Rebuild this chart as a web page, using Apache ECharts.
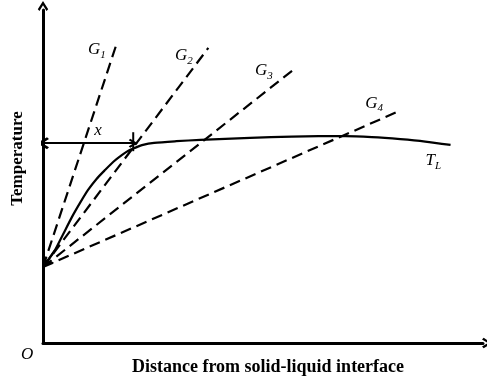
<!DOCTYPE html>
<html><head><meta charset="utf-8">
<script src="https://cdn.jsdelivr.net/npm/echarts@6/dist/echarts.min.js"></script>
<style>html,body{margin:0;padding:0;background:#fff}#c{width:487px;height:378px}</style>
</head><body><div id="c"></div>
<script>
// Data (abstract units)
const origin = [0, 22.8];
const gradientNames = ['1', '2', '3', '4'];
const gradientEnds = [[16.7, 90.4], [37.2, 88.6], [56.3, 82.0], [79.7, 69.4]];
const gradientLabelPos = [[12.1, 88.0], [31.7, 86.2], [49.7, 81.7], [74.5, 72.0]];
const liquidusCurve = [[0, 22.8], [1.2, 25.0], [2.7, 27.9], [4.5, 32.6], [6.5, 37.8], [8.3, 42.0], [10.1, 45.9], [12.0, 49.2], [14.0, 52.0], [15.9, 54.5], [17.8, 56.5], [19.3, 57.8], [20.7, 58.6], [22.5, 59.5], [25.0, 60.1], [30.0, 60.6], [35.4, 61.0], [41.0, 61.3], [46.6, 61.6], [56.0, 62.0], [62.0, 62.1], [68.0, 62.1], [74.0, 61.8], [80.4, 61.2], [86.0, 60.5], [91.7, 59.5]];
const liquidusLabelPos = [87.8, 54.7];
const distanceX = [[0, 60.0], [20.3, 60.0]];
const distanceTick = [[20.3, 63.3], [20.3, 57.6]];
const distanceLabelPos = [12.4, 63.9];

const chevron = 'path://M5,0 L10,8 L8.4,9.6 L5,4.2 L1.6,9.6 L0,8 Z';
const serif = '"Liberation Serif", "Times New Roman", serif';

const series = [];
gradientEnds.forEach((e) => {
  series.push({
    type: 'line', data: [origin, e], symbol: 'none', silent: true,
    lineStyle: { color: '#000', width: 2.2, type: [11, 6] }
  });
});
series.push({
  type: 'line', data: liquidusCurve, smooth: 0.25, symbol: 'none', silent: true,
  lineStyle: { color: '#000', width: 2.2 }
});
// arrowhead at the convergence point
series.push({
  type: 'lines', coordinateSystem: 'cartesian2d', silent: true,
  symbol: ['arrow', 'none'], symbolSize: 10,
  lineStyle: { color: '#000', width: 2, opacity: 1 },
  data: [{ coords: [origin, liquidusCurve[2]] }]
});
// x distance double arrow
series.push({
  type: 'lines', coordinateSystem: 'cartesian2d', silent: true,
  symbol: [chevron, chevron], symbolSize: [12, 9],
  lineStyle: { color: '#000', width: 2.2, opacity: 1 },
  data: [{ coords: distanceX }]
});
series.push({
  type: 'line', data: distanceTick, symbol: 'none', silent: true,
  lineStyle: { color: '#000', width: 2 }
});
// labels
const labelData = gradientLabelPos.map((p, i) => ({ value: p, name: '{g|G}{s|' + gradientNames[i] + '}' }));
labelData.push({ value: liquidusLabelPos, name: '{g|T}{s|L}' });
labelData.push({ value: distanceLabelPos, name: '{g|x}' });
series.push({
  type: 'scatter', data: labelData, symbolSize: 0, silent: true,
  itemStyle: { color: '#000', opacity: 1 },
  label: {
    show: true, position: 'inside', formatter: (p) => p.name,
    color: '#000', textBorderWidth: 0, opacity: 1,
    rich: {
      g: { fontFamily: serif, fontStyle: 'italic', fontSize: 17, color: '#000', textBorderWidth: 0 },
      s: { fontFamily: serif, fontStyle: 'italic', fontSize: 11, color: '#000', textBorderWidth: 0, padding: [10, 0, 0, 0] }
    }
  }
});

const chart = echarts.init(document.getElementById('c'), null, { renderer: 'canvas' });
chart.setOption({
  animation: false,
  backgroundColor: '#fff',
  grid: { left: 43, right: 4, top: 10, bottom: 35, containLabel: false, outerBoundsMode: 'none' },
  xAxis: {
    type: 'value', min: 0, max: 99,
    name: 'Distance from solid-liquid interface', nameLocation: 'middle', nameGap: 15,
    nameTextStyle: { fontFamily: serif, fontWeight: 'bold', fontSize: 18, color: '#000', padding: [0, 0, 0, 10] },
    axisLine: { show: true, symbol: ['none', chevron], symbolSize: [13, 10], symbolOffset: [0, 4], lineStyle: { color: '#000', width: 3 } },
    axisTick: { show: false }, axisLabel: { show: false }, splitLine: { show: false }
  },
  yAxis: {
    type: 'value', min: 0, max: 100,
    name: 'Temperature', nameLocation: 'middle', nameGap: 17, nameRotate: 90,
    nameTextStyle: { fontFamily: serif, fontWeight: 'bold', fontSize: 17, color: '#000', padding: [0, 0, 0, 36] },
    axisLine: { show: true, symbol: ['none', chevron], symbolSize: [13, 10], symbolOffset: [0, 4], lineStyle: { color: '#000', width: 3 } },
    axisTick: { show: false }, axisLabel: { show: false }, splitLine: { show: false }
  },
  graphic: [{
    type: 'text', left: 21, top: 346,
    style: { text: 'O', fontFamily: serif, fontStyle: 'italic', fontSize: 17, fill: '#000' }
  }],
  series: series
});
</script></body></html>
